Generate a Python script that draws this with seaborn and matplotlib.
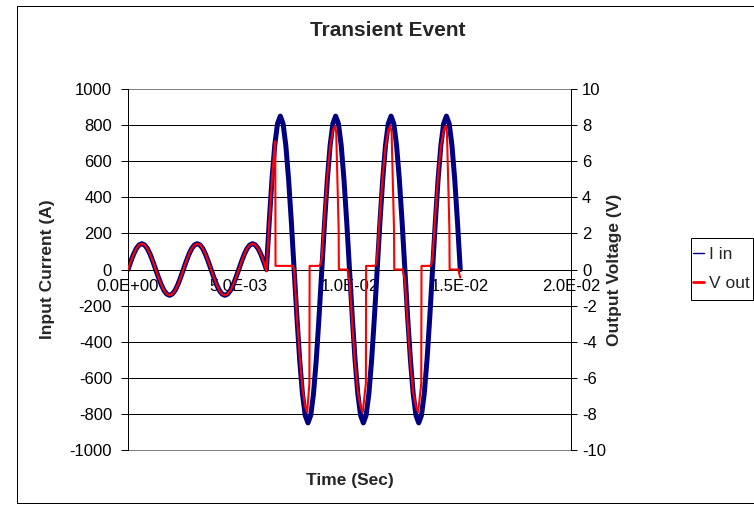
import matplotlib
matplotlib.use("Agg")
import matplotlib.pyplot as plt
import seaborn as sns
import pandas as pd
from matplotlib.lines import Line2D
from matplotlib.patches import Rectangle

# ---------------- data (time in ms) ----------------
time_i_ms = [
    0.0, 0.125, 0.25, 0.375, 0.5, 0.625, 0.75, 0.875,
    1.0, 1.125, 1.25, 1.375, 1.5, 1.625, 1.75, 1.875,
    2.0, 2.125, 2.25, 2.375, 2.5, 2.625, 2.75, 2.875,
    3.0, 3.125, 3.25, 3.375, 3.5, 3.625, 3.75, 3.875,
    4.0, 4.125, 4.25, 4.375, 4.5, 4.625, 4.75, 4.875,
    5.0, 5.125, 5.25, 5.375, 5.5, 5.625, 5.75, 5.875,
    6.0, 6.125, 6.25, 6.375, 6.5, 6.625, 6.75, 6.875,
    7.0, 7.125, 7.25, 7.375, 7.5, 7.625, 7.75, 7.875,
    8.0, 8.125, 8.25, 8.375, 8.5, 8.625, 8.75, 8.875,
    9.0, 9.125, 9.25, 9.375, 9.5, 9.625, 9.75, 9.875,
    10.0, 10.125, 10.25, 10.375, 10.5, 10.625, 10.75, 10.875,
    11.0, 11.125, 11.25, 11.375, 11.5, 11.625, 11.75, 11.875,
    12.0, 12.125, 12.25, 12.375, 12.5, 12.625, 12.75, 12.875,
    13.0, 13.125, 13.25, 13.375, 13.5, 13.625, 13.75, 13.875,
    14.0, 14.125, 14.25, 14.375, 14.5, 14.625, 14.75, 14.875,
    15.0,
]
current_a = [
    0, 44, 84, 116, 136, 143, 136, 116, 84, 44, 0, -44, -84, -116, -136, -143, -136, -116, -84, -44,
    0, 44, 84, 116, 136, 143, 136, 116, 84, 44, 0, -44, -84, -116, -136, -143, -136, -116, -84, -44,
    0, 44, 84, 116, 136, 143, 136, 116, 84, 44, 0,
    263, 500, 688, 808, 850, 808, 688, 500, 263, 0, -263, -500, -688, -808, -850, -808, -688, -500, -263, 0,
    263, 500, 688, 808, 850, 808, 688, 500, 263, 0, -263, -500, -688, -808, -850, -808, -688, -500, -263, 0,
    263, 500, 688, 808, 850, 808, 688, 500, 263, 0, -263, -500, -688, -808, -850, -808, -688, -500, -263, 0,
    263, 500, 688, 808, 850, 808, 688, 500, 263, 0,
]

time_v_ms = [
    0.0, 0.125, 0.25, 0.375, 0.5, 0.625, 0.75, 0.875,
    1.0, 1.125, 1.25, 1.375, 1.5, 1.625, 1.75, 1.875,
    2.0, 2.125, 2.25, 2.375, 2.5, 2.625, 2.75, 2.875,
    3.0, 3.125, 3.25, 3.375, 3.5, 3.625, 3.75, 3.875,
    4.0, 4.125, 4.25, 4.375, 4.5, 4.625, 4.75, 4.875,
    5.0, 5.125, 5.25, 5.375, 5.5, 5.625, 5.75, 5.875,
    6.0, 6.125, 6.25,
    6.375, 6.5, 6.625, 6.65, 6.66, 7.45, 7.5,
    7.625, 7.75, 7.875, 8.0, 8.09, 8.19, 8.2,
    8.62, 8.7, 8.75, 8.875, 9.0, 9.125, 9.25, 9.345, 9.4, 9.51, 9.52,
    9.9, 10.0, 10.125, 10.25, 10.375, 10.5, 10.6, 10.74, 10.75,
    11.15, 11.2, 11.25, 11.375, 11.5, 11.625, 11.75, 11.845, 11.9, 12.01, 12.02,
    12.4, 12.5, 12.625, 12.75, 12.875, 13.0, 13.1, 13.24, 13.25,
    13.65, 13.7, 13.75, 13.875, 14.0, 14.125, 14.25, 14.345, 14.4, 14.51, 14.52,
    14.91, 15.0,
]
voltage_v = [
    0, 0.44, 0.84, 1.16, 1.36, 1.43, 1.36, 1.16, 0.84, 0.44, 0, -0.44, -0.84, -1.16, -1.36, -1.43, -1.36, -1.16, -0.84, -0.44,
    0, 0.44, 0.84, 1.16, 1.36, 1.43, 1.36, 1.16, 0.84, 0.44, 0, -0.44, -0.84, -1.16, -1.36, -1.43, -1.36, -1.16, -0.84, -0.44,
    0, 0.44, 0.84, 1.16, 1.36, 1.43, 1.36, 1.16, 0.84, 0.44, -0.1,
    2.6, 5.0, 6.9, 7.1, 0.2, 0.2, 0.0,
    -2.6, -4.8, -6.6, -7.6, -7.9, -6.3, 0.2,
    0.2, 0.3, 0.7, 3.1, 5.2, 6.8, 7.7, 7.95, 7.6, 2.2, 0.0,
    0.0, -0.6, -3.0, -5.2, -6.8, -7.6, -7.9, -6.3, 0.2,
    0.2, 0.3, 0.7, 3.1, 5.2, 6.8, 7.7, 7.95, 7.6, 2.2, 0.0,
    0.0, -0.6, -3.0, -5.2, -6.8, -7.6, -7.9, -6.3, 0.2,
    0.2, 0.3, 0.7, 3.1, 5.2, 6.8, 7.7, 7.95, 7.6, 2.2, 0.0,
    0.0, -0.45,
]

x_ticks = [0.0, 0.005, 0.01, 0.015, 0.02]
x_tick_labels = ["0.0E+00", "5.0E-03", "1.0E-02", "1.5E-02", "2.0E-02"]
left_ticks = [1000, 800, 600, 400, 200, 0, -200, -400, -600, -800, -1000]
right_ticks = [10, 8, 6, 4, 2, 0, -2, -4, -6, -8, -10]
series_names = ["I in", "V out"]

df_i = pd.DataFrame({"time_s": [t / 1000 for t in time_i_ms], "value": current_a})
df_v = pd.DataFrame({"time_s": [t / 1000 for t in time_v_ms], "value": voltage_v})

# ---------------- style ----------------
sns.set_theme(style="white")
plt.rcParams["font.family"] = ["Liberation Sans", "DejaVu Sans"]
plt.rcParams["axes.axisbelow"] = True

W, H = 754, 508
fig = plt.figure(figsize=(W / 100, H / 100), dpi=100)
fig.patch.set_facecolor("white")

L, R, T, B = 128, 571, 89, 450
ax = fig.add_axes([L / W, 1 - B / H, (R - L) / W, (B - T) / H])
ax.set_facecolor("white")

navy = "#000080"
red = "#FF0000"

sns.lineplot(data=df_i, x="time_s", y="value", ax=ax, color=navy, lw=3.6,
             estimator=None, sort=False, legend=False)
ax2 = ax.twinx()
sns.lineplot(data=df_v, x="time_s", y="value", ax=ax2, color=red, lw=1.5,
             estimator=None, sort=False, legend=False)

ax.set_xlim(0, 0.02)
ax.set_ylim(-1000, 1000)
ax2.set_ylim(-10, 10)
ax.set_xlabel("")
ax.set_ylabel("")
ax2.set_ylabel("")

ax.set_yticks(left_ticks)
ax.set_yticklabels([str(v) for v in left_ticks])
ax2.set_yticks(right_ticks)
ax2.set_yticklabels([str(v) for v in right_ticks])
ax.set_xticks(x_ticks)
ax.set_xticklabels(x_tick_labels)

px = 0.72
ax.yaxis.grid(True, color="black", lw=px)
ax.xaxis.grid(False)

for s in ["top", "right"]:
    ax.spines[s].set_visible(False)
ax.spines["left"].set_color("black")
ax.spines["left"].set_linewidth(px)
ax.spines["bottom"].set_position(("data", 0))
ax.spines["bottom"].set_color("black")
ax.spines["bottom"].set_linewidth(px)
for s in ["top", "left", "bottom"]:
    ax2.spines[s].set_visible(False)
ax2.spines["right"].set_color("black")
ax2.spines["right"].set_linewidth(px)

ax.tick_params(axis="x", length=0, pad=6.5, labelsize=12, colors="black")
ax.tick_params(axis="y", direction="out", length=5, width=px, color="black",
               pad=6.5, labelsize=12, labelcolor="black", left=True)
ax2.tick_params(axis="y", direction="out", length=4, width=px, color="black",
                pad=4, labelsize=12, labelcolor="black", right=True)

# plot-area border (grey)
ax.add_patch(Rectangle((0, 0), 1, 1, transform=ax.transAxes, fill=False,
                       edgecolor="#808080", lw=px, clip_on=False, zorder=1))

# outer chart border
fig.add_artist(Rectangle((17 / W, 5 / H), (760 - 17) / W, (503 - 6) / H,
                         transform=fig.transFigure, fill=False,
                         edgecolor="black", lw=px))

# texts
fig.text(388 / W, 1 - 30 / H, "Transient Event", ha="center", va="center",
         fontsize=15, fontweight="bold")
fig.text(349.5 / W, 1 - 480 / H, "Time (Sec)", ha="center", va="center",
         fontsize=12.5, fontweight="bold")
fig.text(48 / W, 1 - 269.5 / H, "Input Current (A)", ha="center", va="center",
         rotation=90, fontsize=12.5, fontweight="bold")
fig.text(615 / W, 1 - 269.5 / H, "Output Voltage (V)", ha="center", va="center",
         rotation=90, fontsize=12.5, fontweight="bold")

# legend (frame drawn separately so paddings can match)
handles = [Line2D([], [], color=navy, lw=1),
           Line2D([], [], color=red, lw=2)]
leg = fig.legend(handles=handles, labels=series_names, loc="center left",
                 bbox_to_anchor=(691 / W, 1 - 269 / H), bbox_transform=fig.transFigure,
                 frameon=False, handlelength=0.65, handletextpad=0.3, borderpad=0.1,
                 labelspacing=0.75, borderaxespad=0, fontsize=12.5)
fig.add_artist(Rectangle((691 / W, 1 - 300 / H), (753 - 691) / W, (300 - 238) / H,
                         transform=fig.transFigure, fill=False,
                         edgecolor="black", lw=px))

fig.savefig("out.png", dpi=100, facecolor="white")
